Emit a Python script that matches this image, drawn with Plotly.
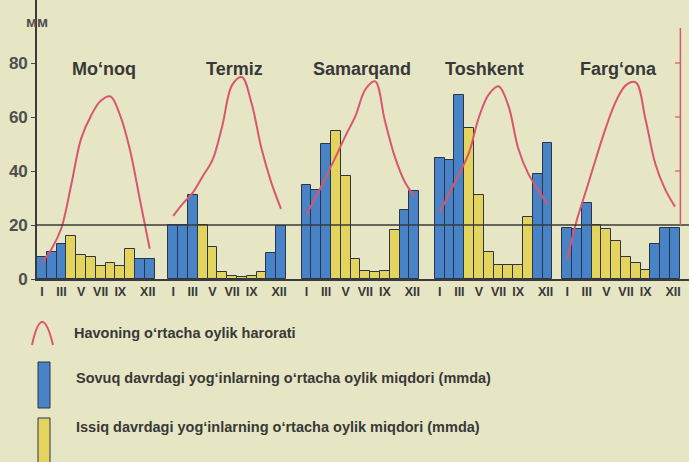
import plotly.graph_objects as go

# ---- data -------------------------------------------------------------
cities = ["Mo‘noq", "Termiz", "Samarqand", "Toshkent", "Farg‘ona"]
month_labels = ["I", "III", "V", "VII", "IX", "XII"]
month_label_pos = [0.5, 2.5, 4.5, 6.5, 8.5, 11.3]  # slot positions of the labels

# monthly precipitation, mm (Jan..Dec)
precip_monoq = [8, 10, 13, 16, 9, 8, 5, 6, 5, 11, 7.5, 7.5]
precip_termiz = [20, 20, 31, 20, 12, 2.5, 1.2, 0.8, 1.2, 2.5, 9.5, 19.5]
precip_samarqand = [35, 33, 50, 55, 38, 7.5, 3, 2.5, 3, 18, 25.5, 32.5]
precip_toshkent = [45, 44, 68, 56, 31, 10, 5.3, 5.3, 5.3, 23, 39, 50.5]
precip_fargona = [19, 18.5, 28, 20, 18.5, 14, 8, 6, 3.4, 13, 19, 19]

# months of the cold period (0 = January)
cold_monoq = [0, 1, 2, 10, 11]
cold_termiz = [0, 1, 2, 10, 11]
cold_samarqand = [0, 1, 2, 10, 11]
cold_toshkent = [0, 1, 2, 10, 11]
cold_fargona = [0, 1, 2, 9, 10, 11]

# mean monthly air temperature, °C
temp_monoq = [-7, -4.4, -0.5, 7.5, 16, 20.2, 23, 23.8, 20.2, 13.8, 4.7, -4.4]
temp_termiz = [1.7, 4, 6, 9, 12, 18.3, 25.9, 27.4, 22.5, 14.2, 7.9, 3]
temp_samarqand = [2, 5.3, 9, 12.7, 16.6, 20.2, 25.1, 26.6, 19.3, 12.7, 8.1, 5.3]
temp_toshkent = [2.3, 6, 9.5, 13.5, 20, 24.2, 25.7, 22.1, 14.2, 9.6, 6.6, 3.8]
temp_fargona = [-6.3, 1, 6.8, 12.7, 18.3, 23, 25.9, 26.4, 19.5, 11.3, 6.6, 3.4]

precip = [precip_monoq, precip_termiz, precip_samarqand, precip_toshkent, precip_fargona]
cold = [cold_monoq, cold_termiz, cold_samarqand, cold_toshkent, cold_fargona]
temps = [temp_monoq, temp_termiz, temp_samarqand, temp_toshkent, temp_fargona]

# ---- layout constants -------------------------------------------------
W, H = 689, 462
L, R_EDGE, BOTTOM = 37, 689, 279      # plot area in pixels
SLOT = 9.8                             # px per month
PX_PER_MM = 2.7
block_start = [0, 13.4, 27.0, 40.6, 53.6]   # slot offset of each station block
title_shift = [0.85, 0.8, 0.15, -0.9, -0.3]

T0_MM, MM_PER_DEG = 20, 2.0            # 0 °C sits on the 20 mm line

x_range = [0, (R_EDGE - L) / SLOT]
y_range = [0, BOTTOM / PX_PER_MM]
y2_range = [(y_range[0] - T0_MM) / MM_PER_DEG, (y_range[1] - T0_MM) / MM_PER_DEG]

BG = "#e6e6c4"
BLUE = "#4783c6"
YELLOW = "#e4d35c"
EDGE = "#2c3448"
RED = "#d9566f"
INK = "#383838"
FONT = "Liberation Sans, Arial, sans-serif"


def px(x):
    return (x - L) / (R_EDGE - L)


def py(y):
    return (BOTTOM - y) / BOTTOM


fig = go.Figure()

# precipitation bars, split into cold (blue) and warm (yellow) periods
for kind, colour in (("cold", BLUE), ("warm", YELLOW)):
    xs, ys = [], []
    for ci, vals in enumerate(precip):
        for m, v in enumerate(vals):
            is_cold = m in cold[ci]
            if (kind == "cold") == is_cold:
                xs.append(block_start[ci] + m + 0.5)
                ys.append(v)
    fig.add_trace(go.Bar(
        x=xs, y=ys, width=1.0,
        marker=dict(color=colour, line=dict(color=EDGE, width=1)),
        showlegend=False, hoverinfo="skip",
    ))

# temperature curves
for ci, t in enumerate(temps):
    fig.add_trace(go.Scatter(
        x=[block_start[ci] + m + 0.5 for m in range(12)], y=t,
        mode="lines", line=dict(color=RED, width=2, shape="spline", smoothing=1.0),
        yaxis="y2", showlegend=False, hoverinfo="skip",
    ))

# month tick labels under every station
tickvals, ticktext = [], []
for ci in range(len(cities)):
    for pos, lab in zip(month_label_pos, month_labels):
        tickvals.append(block_start[ci] + pos)
        ticktext.append(lab)

shapes = [
    # 20 mm reference line
    dict(type="line", xref="paper", yref="y", x0=0, x1=1, y0=20, y1=20,
         line=dict(color="#3a3a3a", width=1.6)),
    # temperature axis on the right
    dict(type="line", xref="x", yref="y2", x0=block_start[-1] + 12.05, x1=block_start[-1] + 12.05,
         y0=0, y1=36.5, line=dict(color=RED, width=1.5)),
    # legend symbols
    dict(type="path", xref="paper", yref="paper",
         path=f"M {px(32)},{py(345)} Q {px(42)},{py(299)} {px(53)},{py(345)}",
         line=dict(color=RED, width=2)),
    dict(type="rect", xref="paper", yref="paper", x0=px(38), x1=px(50), y0=py(362), y1=py(408),
         fillcolor=BLUE, line=dict(color=EDGE, width=1)),
    dict(type="rect", xref="paper", yref="paper", x0=px(38), x1=px(50), y0=py(418), y1=py(470),
         fillcolor=YELLOW, line=dict(color=EDGE, width=1)),
]
for tv in (10, 20, 30):
    shapes.append(dict(type="line", xref="x", yref="y2",
                       x0=block_start[-1] + 11.5, x1=block_start[-1] + 12.05, y0=tv, y1=tv,
                       line=dict(color=RED, width=1.2)))

annotations = [
    dict(text="мм", xref="paper", yref="paper", x=px(24), y=py(11),
         showarrow=False, font=dict(family=FONT, size=15, color="#505050", weight="bold")),
]
for ci, name in enumerate(cities):
    annotations.append(dict(
        text=name, xref="x", yref="paper", x=block_start[ci] + 6 + title_shift[ci], y=py(57),
        showarrow=False, font=dict(family=FONT, size=18, color=INK, weight="bold"),
    ))

legend_rows = [
    ("Havoning o‘rtacha oylik harorati", 72, 343),
    ("Sovuq davrdagi yog‘inlarning o‘rtacha oylik miqdori (mmda)", 74, 388),
    ("Issiq davrdagi yog‘inlarning o‘rtacha oylik miqdori (mmda)", 74, 437),
]
for text, lx, ly in legend_rows:
    annotations.append(dict(
        text=text, xref="paper", yref="paper", x=px(lx), y=py(ly), xanchor="left",
        showarrow=False, font=dict(family=FONT, size=14.5, color=INK, weight="bold"),
    ))

fig.update_layout(
    width=W, height=H,
    margin=dict(l=L, r=W - R_EDGE, t=0, b=H - BOTTOM),
    paper_bgcolor=BG, plot_bgcolor=BG,
    bargap=0, barmode="overlay",
    xaxis=dict(range=x_range, tickvals=tickvals, ticktext=ticktext, ticks="",
               tickfont=dict(family=FONT, size=12.5, color=INK, weight="bold"),
               showgrid=False, zeroline=False, showline=True, linecolor="#3a3a3a", linewidth=1.6,
               tickangle=0),
    yaxis=dict(range=y_range, tickvals=[0, 20, 40, 60, 80], ticks="outside", ticklen=4,
               tickcolor="#444", tickfont=dict(family=FONT, size=17, color="#4e4e4e", weight="bold"),
               showgrid=False, zeroline=False, showline=True, linecolor="#3a3a3a", linewidth=1.6),
    yaxis2=dict(range=y2_range, overlaying="y", side="right", visible=False),
    shapes=shapes,
    annotations=annotations,
)

fig.write_html("out.html")
